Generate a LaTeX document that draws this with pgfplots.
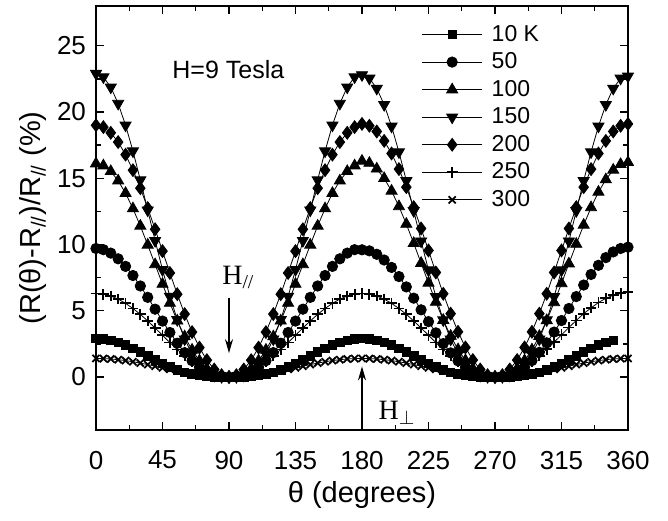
\documentclass[border=0pt]{standalone}
\usepackage{pgfplots}
\pgfplotsset{compat=1.18}
\usepackage{pgfplotstable}
\usetikzlibrary{arrows.meta}
\usepackage{fontspec}
\setmainfont{Liberation Sans}
\newfontfamily\seriffont{Liberation Serif}

\pgfplotstableread{
t s10 s50 s100 s150 s200 s250 s300
0 2.90 9.70 16.10 22.90 19.00 6.30 1.40
5 2.87 9.61 15.95 22.64 18.86 6.25 1.39
10 2.77 9.35 15.52 21.87 18.43 6.11 1.36
15 2.61 8.92 14.81 20.64 17.73 5.88 1.31
20 2.41 8.35 13.87 19.00 16.78 5.56 1.24
25 2.16 7.66 12.71 17.05 15.61 5.17 1.15
30 1.88 6.87 11.40 14.87 14.25 4.73 1.05
35 1.59 6.01 9.97 12.59 12.75 4.23 0.94
40 1.30 5.12 8.49 10.29 11.15 3.70 0.82
45 1.03 4.22 7.01 8.10 9.50 3.15 0.70
50 0.77 3.36 5.58 6.08 7.85 2.60 0.58
55 0.55 2.55 4.24 4.32 6.25 2.07 0.46
60 0.36 1.84 3.05 2.86 4.75 1.58 0.35
65 0.22 1.23 2.04 1.73 3.39 1.13 0.25
70 0.12 0.74 1.23 0.92 2.22 0.74 0.16
75 0.05 0.38 0.63 0.40 1.27 0.42 0.09
80 0.02 0.15 0.24 0.12 0.57 0.19 0.04
85 0.00 0.03 0.05 0.02 0.14 0.05 0.01
90 -0.05 0.00 0.00 0.00 0.00 0.00 0.00
95 0.00 0.03 0.05 0.02 0.14 0.05 0.01
100 0.02 0.15 0.24 0.12 0.57 0.19 0.04
105 0.05 0.38 0.63 0.40 1.27 0.42 0.09
110 0.12 0.74 1.23 0.92 2.22 0.74 0.16
115 0.22 1.23 2.04 1.73 3.39 1.13 0.25
120 0.36 1.84 3.05 2.86 4.75 1.58 0.35
125 0.55 2.55 4.24 4.32 6.25 2.07 0.46
130 0.77 3.36 5.58 6.08 7.85 2.60 0.58
135 1.03 4.22 7.01 8.10 9.50 3.15 0.70
140 1.30 5.12 8.49 10.29 11.15 3.70 0.82
145 1.59 6.01 9.97 12.59 12.75 4.23 0.94
150 1.88 6.87 11.40 14.87 14.25 4.73 1.05
155 2.16 7.66 12.71 17.05 15.61 5.17 1.15
160 2.41 8.35 13.87 19.00 16.78 5.56 1.24
165 2.61 8.92 14.81 20.64 17.73 5.88 1.31
170 2.77 9.35 15.52 21.87 18.43 6.11 1.36
175 2.87 9.61 15.95 22.64 18.86 6.25 1.39
180 2.90 9.60 16.30 22.80 19.10 6.30 1.40
185 2.87 9.52 16.14 22.54 18.96 6.25 1.39
190 2.77 9.26 15.71 21.78 18.53 6.11 1.36
195 2.61 8.83 14.99 20.55 17.82 5.88 1.31
200 2.41 8.27 14.04 18.92 16.87 5.56 1.24
205 2.16 7.58 12.87 16.98 15.69 5.17 1.15
210 1.88 6.80 11.54 14.81 14.33 4.73 1.05
215 1.59 5.95 10.09 12.54 12.82 4.23 0.94
220 1.30 5.07 8.59 10.25 11.21 3.70 0.82
225 1.03 4.18 7.10 8.07 9.55 3.15 0.70
230 0.77 3.33 5.65 6.06 7.89 2.60 0.58
235 0.55 2.52 4.29 4.30 6.28 2.07 0.46
240 0.36 1.82 3.09 2.85 4.78 1.58 0.35
245 0.22 1.22 2.07 1.72 3.41 1.13 0.25
250 0.12 0.73 1.25 0.92 2.23 0.74 0.16
255 0.05 0.38 0.64 0.40 1.28 0.42 0.09
260 0.02 0.15 0.24 0.12 0.57 0.19 0.04
265 0.00 0.03 0.05 0.02 0.14 0.05 0.01
270 -0.05 0.00 0.00 0.00 0.00 0.00 0.00
275 0.00 0.03 0.05 0.02 0.14 0.05 0.01
280 0.02 0.15 0.24 0.12 0.57 0.19 0.04
285 0.05 0.38 0.64 0.40 1.28 0.42 0.09
290 0.12 0.74 1.24 0.92 2.23 0.74 0.16
295 0.22 1.24 2.06 1.72 3.41 1.14 0.25
300 0.36 1.86 3.08 2.85 4.78 1.59 0.35
305 0.55 2.58 4.27 4.30 6.28 2.09 0.46
310 0.77 3.39 5.62 6.06 7.89 2.63 0.58
315 1.03 4.26 7.06 8.07 9.55 3.18 0.70
320 1.30 5.17 8.55 10.25 11.21 3.74 0.82
325 1.59 6.07 10.03 12.54 12.82 4.27 0.94
330 1.88 6.94 11.47 14.81 14.33 4.78 1.05
335 2.16 7.74 12.79 16.98 15.69 5.22 1.15
340 2.41 8.43 13.96 18.92 16.87 5.62 1.24
345 2.61 9.01 14.90 20.55 17.82 5.94 1.31
350 2.77 9.44 15.62 21.78 18.53 6.17 1.36
355 nan 9.70 16.05 22.54 18.96 6.31 1.39
360 nan 9.80 16.20 22.70 19.10 6.40 1.40
}\data

\begin{document}
\begin{tikzpicture}
\path[use as bounding box] (-48pt,-45pt) rectangle (286pt,215pt);
\begin{axis}[
  at={(0,0)}, anchor=south west,
  scale only axis, width=266pt, height=212pt,
  xmin=0, xmax=360, ymin=-4, ymax=28,
  xtick={0,45,...,360}, ytick={0,5,...,25},
  minor x tick num=1, minor y tick num=1,
  tick align=inside,
  major tick length=4pt, minor tick length=2.5pt,
  axis line style={line width=1pt},
  every tick/.style={black, line width=0.7pt},
  /pgf/number format/assume math mode=true,
  ticklabel style={font=\fontsize{13}{15}\selectfont},
  xticklabel style={yshift=-7pt},
  yticklabel style={xshift=-1.5pt},
  xlabel={θ (degrees)},
  ylabel={(R(θ)-R\textsubscript{//})/R\textsubscript{//} (\%)},
  label style={font=\fontsize{14.5}{17}\selectfont},
  xlabel style={at={(axis description cs:0.5,-0.153)}, anchor=center},
  ylabel style={at={(axis description cs:-0.118,0.5)}, anchor=center, rotate=0},
  legend style={at={(0.6,0.975)}, anchor=north west, draw=none, fill=none,
    font=\fontsize{11.5}{13}\selectfont, row sep=0.25pt},
  legend cell align=left,
  legend image code/.code={\draw[mark repeat=2,mark phase=2,#1] plot coordinates {(0cm,0cm) (0.53cm,0cm) (1.06cm,0cm)};},
  every axis plot/.append style={black, line width=0.4pt},
]
\addplot[mark=square*, mark size=2.1pt, mark options={solid, fill=black}] table[x=t,y=s10]{\data};
\addlegendentry{\hspace{2.5pt}10 K}
\addplot[mark=*, mark size=2.6pt, mark options={solid, fill=black}] table[x=t,y=s50]{\data};
\addlegendentry{\hspace{2.5pt}50}
\addplot[mark=triangle*, mark size=3.2pt, mark options={solid, fill=black}] table[x=t,y=s100]{\data};
\addlegendentry{\hspace{2.5pt}100}
\addplot[mark=triangle*, mark size=3.2pt, mark options={solid, fill=black, rotate=180}] table[x=t,y=s150]{\data};
\addlegendentry{\hspace{2.5pt}150}
\addplot[mark=diamond*, mark size=3.2pt, mark options={solid, fill=black}] table[x=t,y=s200]{\data};
\addlegendentry{\hspace{2.5pt}200}
\addplot[mark=+, mark size=2.7pt, mark options={solid, line width=0.9pt}] table[x=t,y=s250]{\data};
\addlegendentry{\hspace{2.5pt}250}
\addplot[mark=x, mark size=2.5pt, mark options={solid, line width=0.9pt}] table[x=t,y=s300]{\data};
\addlegendentry{\hspace{2.5pt}300}

\node[anchor=west, inner sep=0pt, font=\fontsize{12.5}{14}\selectfont] at (axis cs:51.4,23.2) {H=9 Tesla};
\node[anchor=west, inner sep=0pt, font=\seriffont\fontsize{14}{16}\selectfont] at (axis cs:85.2,7.5) {H\textsubscript{//}};
\draw[-{Stealth[length=7pt,width=4pt]}, line width=1pt] (axis cs:90,6.0) -- (axis cs:90,1.8);
\node[anchor=west, inner sep=0pt, font=\seriffont\fontsize{14}{16}\selectfont] at (axis cs:191,-2.7) {H$_{\perp}$};
\draw[-{Stealth[length=7pt,width=4pt]}, line width=1pt] (axis cs:180,-4) -- (axis cs:180,0.8);
\end{axis}
\end{tikzpicture}
\end{document}
